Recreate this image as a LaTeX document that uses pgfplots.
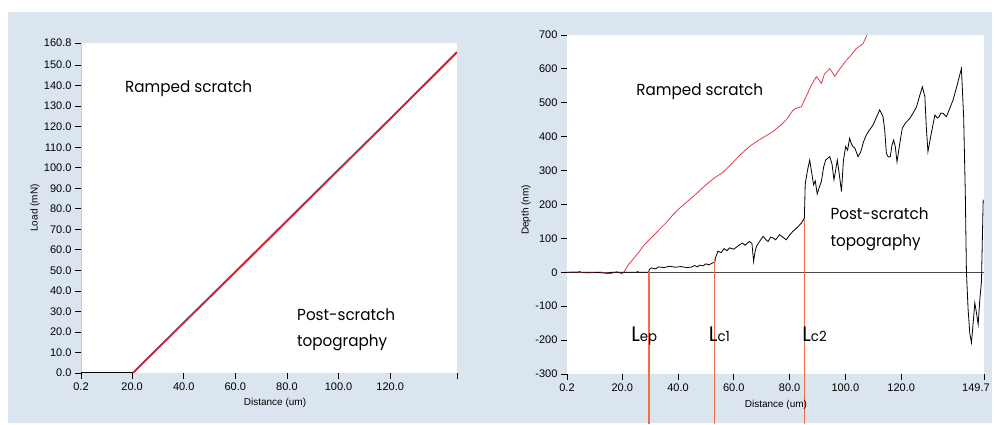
\documentclass[border=0pt]{standalone}
\usepackage{fontspec}
\setmainfont{Liberation Sans}
\newfontfamily\annot[FakeStretch=0.95]{Poppins}
\usepackage{pgfplots}
\pgfplotsset{compat=1.18}
\definecolor{bgblue}{RGB}{219,229,240}
\definecolor{redline}{RGB}{220,30,40}
\definecolor{redthin}{RGB}{225,60,70}
\definecolor{blueline}{RGB}{70,120,180}
\definecolor{orangeline}{RGB}{240,110,70}
\definecolor{tanline}{RGB}{215,200,170}
\pgfplotsset{
  myax/.style={
    scale only axis, anchor=south west,
    axis background/.style={fill=white},
    axis x line*=bottom, axis y line*=left,
    x axis line style={draw=none},
    y axis line style={draw=none},
    tick align=outside, major tick length=6pt,
    tick style={black, line width=0.8pt},
    ticklabel style={font=\fontsize{11}{11}\selectfont, text=black},
    /pgf/number format/assume math mode=true,
    label style={font=\fontsize{10}{10}\selectfont},
    enlargelimits=false,
  },
}
\tikzset{annotsty/.style={anchor=base west, inner sep=0pt, font=\annot\fontsize{16}{16}\selectfont, text=black}}
\begin{document}
\begin{tikzpicture}[x=1pt,y=1pt]
\useasboundingbox (0,0) rectangle (995,425);
\fill[white] (0,0) rectangle (995,425);
\fill[bgblue] (8,2) rectangle (992,413);
% ---------------- left panel
\begin{axis}[myax, at={(81pt,52pt)}, width=376pt, height=330pt,
  xmin=0.2, xmax=145.9, ymin=0, ymax=160.8,
  y axis line style={draw=tanline, line width=1pt},
  xtick={0.2,20,40,60,80,100,120,145.9},
  xticklabels={0.2,20.0,40.0,60.0,80.0,100.0,120.0,{}},
  ytick={0,10,20,30,40,50,60,70,80,90,100,110,120,130,140,150,160.8},
  yticklabel style={/pgf/number format/.cd, fixed, fixed zerofill, precision=1},
  xlabel={Distance (um)}, ylabel={Load (mN)},
  xlabel style={at={(axis description cs:0.516,-0.091)}, anchor=center},
  ylabel style={at={(axis description cs:-0.122,0.50)}, anchor=center},
]
\addplot[black, line width=2pt] coordinates {(0.2,0) (20.3,0)};
\addplot[blueline, line width=1.6pt] coordinates {(20.5,0.3) (40,24.7) (60,49.4) (80,74.3) (100,99.2) (120,124.0) (145.9,156.5)};
\addplot[redline, line width=1.6pt] coordinates {(20.3,0) (40,24.4) (60,49.1) (80,74.0) (100,98.9) (120,123.7) (145.9,156.2)};
\node[annotsty] at (axis cs:17.25,136.5) {Ramped scratch};
\node[annotsty] at (axis cs:83.9,25.8) {Post-scratch};
\node[annotsty] at (axis cs:83.9,13.1) {topography};
\end{axis}
% ---------------- right panel
\begin{axis}[myax, at={(567pt,51pt)}, width=417pt, height=339pt, clip=false,
  xmin=0.2, xmax=149.7, ymin=-300, ymax=700,
  xtick={0.2,20,40,60,80,100,120,149.7},
  xticklabels={0.2,20.0,40.0,60.0,80.0,100.0,120.0,{149.7\hspace*{16pt}}},
  ytick={-300,-200,...,700},
  xlabel={Distance (um)}, ylabel={Depth (nm)},
  xlabel style={at={(axis description cs:0.501,-0.091)}, anchor=center},
  ylabel style={at={(axis description cs:-0.098,0.484)}, anchor=center},
]
\addplot[black!70, line width=1pt] coordinates {(0.2,0) (149.7,0)};
\addplot[redthin, line width=0.8pt] coordinates {
(0.2,0) (3,1) (8,-2) (12,1) (16,-4) (18,2) (20,-5) (20.8,3) (22,20) (24,40) (26,60) (28,82) (29.7,96) (32,115) (34,132) (35.7,146) (38,168) (40,185) (43.5,210) (47,235) (50,258) (53,278) (56.1,295) (59,318) (62.2,346) (65.6,371) (68,385) (71,400) (74,415) (77,435) (79,452) (81.2,478) (82.4,484) (84.2,488) (86,520) (88,555) (89.6,577) (90.5,568) (91.4,557) (92.5,585) (94.4,601) (95.3,590) (96.2,578) (98,600) (100.3,625) (102,640) (103.9,660) (106.3,674) (107.7,700)};
\addplot[black, line width=0.8pt] coordinates {
(0.2,0) (4,0) (4.6,2) (5.5,0) (10,0) (15,-3) (16,0) (25,0) (25.5,2) (26,0) (29.5,0) (29.7,8) (30.5,13) (32,10) (33,16) (35,14) (37,18) (39,15) (41,17) (43,14) (44.7,15) (46,20) (47,16) (47.7,21) (49,19) (50,25) (51,22) (52.5,28) (53.2,30) (53.4,42) (54.3,62) (55.5,58) (56.5,70) (57.5,64) (58.5,72) (60,68) (62,81) (63.2,86) (64,80) (65.6,91) (66.5,85) (67.1,32) (67.6,60) (68.1,76) (69,88) (70.5,106) (71.5,96) (72.3,91) (73.2,104) (74.1,101) (75,96) (76.4,111) (77.5,104) (78.8,96) (80,110) (81.2,121) (82.5,130) (84.2,145) (85,155) (85.3,160) (85.6,260) (86.4,300) (87.2,331) (88,290) (88.6,258) (89.2,270) (89.9,231) (90.6,250) (91.4,268) (92.2,310) (92.9,331) (94.4,341) (95.2,320) (95.9,273) (96.5,300) (97.1,331) (97.8,290) (98.6,238) (99.3,330) (100.1,371) (100.8,360) (101.5,395) (102.1,380) (102.7,371) (103.5,365) (104.5,341) (105.5,355) (106.5,385) (107.5,405) (108.5,418) (109.9,434) (111,455) (112.3,479) (113.5,459) (114.1,420) (114.7,351) (115.4,340) (116.1,341) (116.7,375) (117.3,390) (117.9,370) (118.5,326) (119.5,380) (120.4,425) (121.5,440) (123.1,454) (124.3,470) (125.5,488) (126.6,520) (127.6,547) (128.5,518) (129,430) (129.6,356) (130.8,410) (132.1,464) (133,455) (133.6,459) (134.3,470) (135,469) (136.2,459) (137.5,485) (138.6,508) (140,550) (141.6,601) (142.4,459) (143,230) (143.4,0) (144,-110) (144.6,-180) (145.2,-208) (145.8,-150) (146.4,-90) (147,-120) (147.6,-154) (148.2,-80) (148.8,-26) (149.4,214)};
\addplot[orangeline, line width=1.6pt] coordinates {(29.5,0) (29.5,-448)};
\addplot[orangeline, line width=1.6pt] coordinates {(53.1,40) (53.1,-448)};
\addplot[orangeline, line width=1.6pt] coordinates {(85.4,158) (85.4,-448)};
\node[annotsty] at (axis cs:25.0,520.6) {Ramped scratch};
\node[annotsty] at (axis cs:94.6,155) {Post-scratch};
\node[annotsty] at (axis cs:94.6,76.5) {topography};
\node[annotsty, font=\annot] at (axis cs:23.2,-204) {\fontsize{21}{21}\selectfont L\fontsize{14}{14}\selectfont ep};
\node[annotsty, font=\annot] at (axis cs:51.0,-204) {\fontsize{21}{21}\selectfont L\fontsize{14}{14}\selectfont c1};
\node[annotsty, font=\annot] at (axis cs:84.5,-204) {\fontsize{21}{21}\selectfont L\fontsize{14}{14}\selectfont c2};
\end{axis}
\end{tikzpicture}
\end{document}
